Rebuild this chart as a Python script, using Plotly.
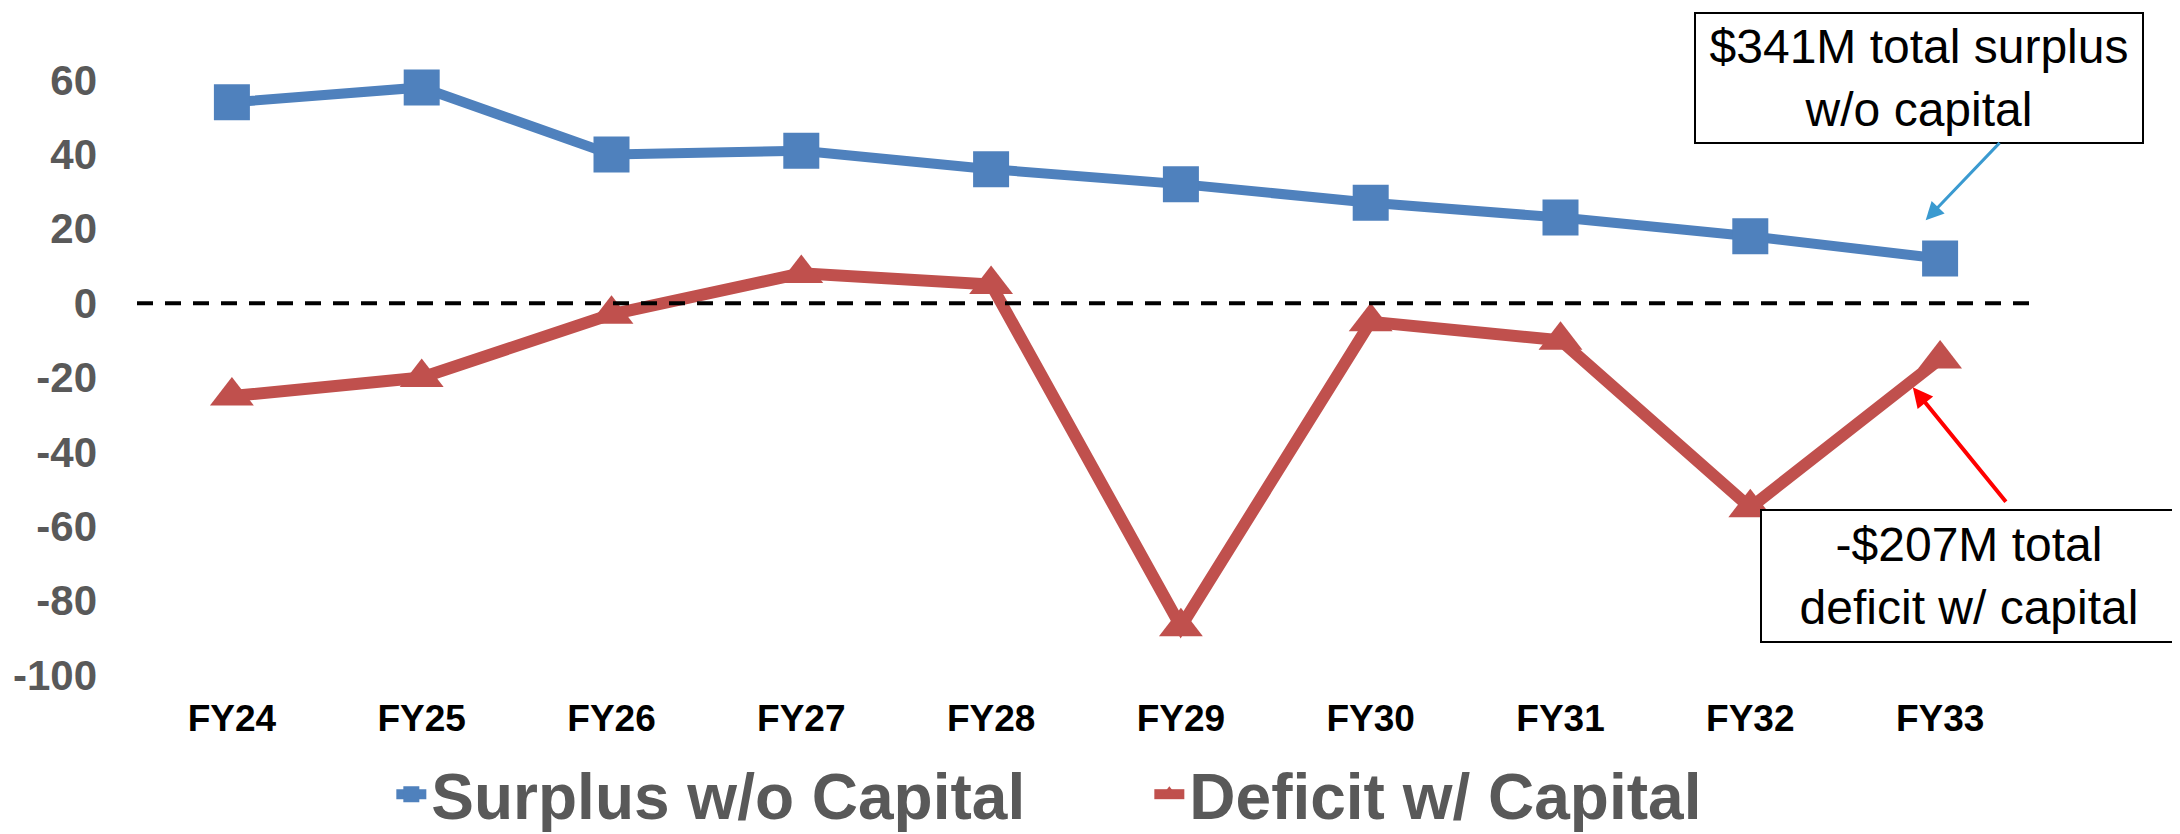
import plotly.graph_objects as go

# Fiscal years on the x axis
years = ['FY24', 'FY25', 'FY26', 'FY27', 'FY28', 'FY29', 'FY30', 'FY31', 'FY32', 'FY33']
# $M per year
surplus = [54, 58, 40, 41, 36, 32, 27, 23, 18, 12]
deficit = [-25, -20, -3, 8, 5, -87, -5, -10, -55, -15]
y_ticks = [60, 40, 20, 0, -20, -40, -60, -80, -100]
y_labels = ['60', '40', '20', '0', '-20', '-40', '-60', '-80', '-100']

FONT = 'Liberation Sans, Arial, sans-serif'
BLUE = '#4F81BD'
RED = '#C0504D'

data = [
    go.Scatter(x=years, y=surplus, name='Surplus w/o Capital', mode='lines+markers',
               line=dict(color=BLUE, width=10),
               marker=dict(symbol='square', size=36, color=BLUE),
               cliponaxis=False),
    go.Scatter(x=years, y=deficit, name='Deficit w/ Capital', mode='lines+markers',
               line=dict(color=RED, width=12),
               marker=dict(symbol='triangle-up', size=38, color=RED),
               cliponaxis=False),
]

# the page body adds an 8px offset, so margins are shifted up/left by 8
layout = go.Layout(
    width=2180, height=834,
    margin=dict(l=129, r=153, t=72, b=167, autoexpand=False),
    paper_bgcolor='white', plot_bgcolor='white',
    font=dict(family=FONT),
    xaxis=dict(range=[-0.5, 9.5], showgrid=False, zeroline=False, showline=False,
               ticks='', ticklabelstandoff=18,
               tickfont=dict(family=FONT, size=37, color='black', weight='bold')),
    yaxis=dict(range=[-100, 60], tickvals=y_ticks, ticktext=y_labels, showgrid=False,
               zeroline=False, showline=False, ticks='', ticklabelstandoff=39,
               tickfont=dict(family=FONT, size=42, color='#595959', weight='bold')),
    showlegend=True,
    legend=dict(orientation='h', x=0.134, xanchor='left', y=-0.201, yanchor='middle',
                entrywidth=713, entrywidthmode='pixels',
                font=dict(family=FONT, size=64, color='#595959', weight='bold')),
    shapes=[dict(type='line', xref='x', yref='y', x0=-0.5, x1=9.47, y0=0, y1=0,
                 line=dict(color='black', width=4, dash='16px,12px'))],
    annotations=[
        # text boxes (paper coords, the top one sits above the plot area)
        dict(xref='paper', yref='paper', x=0.9389, y=1.0034, xanchor='center', yanchor='middle',
             showarrow=False, text='$341M total surplus<br>w/o capital', align='center',
             width=446, height=128, borderpad=0, bordercolor='black', borderwidth=2,
             bgcolor='white', font=dict(family=FONT, size=48, color='black')),
        dict(xref='paper', yref='paper', x=0.9652, y=0.1672, xanchor='center', yanchor='middle',
             showarrow=False, text='-$207M total<br>deficit w/ capital', align='center',
             width=414, height=130, borderpad=0, bordercolor='black', borderwidth=2,
             bgcolor='white', font=dict(family=FONT, size=48, color='black')),
        # arrows pointing at the last points
        dict(xref='x', yref='y', x=8.924, y=22.3, axref='x', ayref='y', ax=9.321, ay=43.5,
             text='', showarrow=True, arrowhead=2, arrowsize=1.2, arrowwidth=3,
             arrowcolor='#3A9AD0', standoff=0),
        dict(xref='x', yref='y', x=8.856, y=-22.6, axref='x', ayref='y', ax=9.353, ay=-53.8,
             text='', showarrow=True, arrowhead=2, arrowsize=1.0, arrowwidth=4,
             arrowcolor='#FF0000', standoff=0),
    ],
)

fig = go.Figure(data=data, layout=layout)
fig.write_html("out.html")
